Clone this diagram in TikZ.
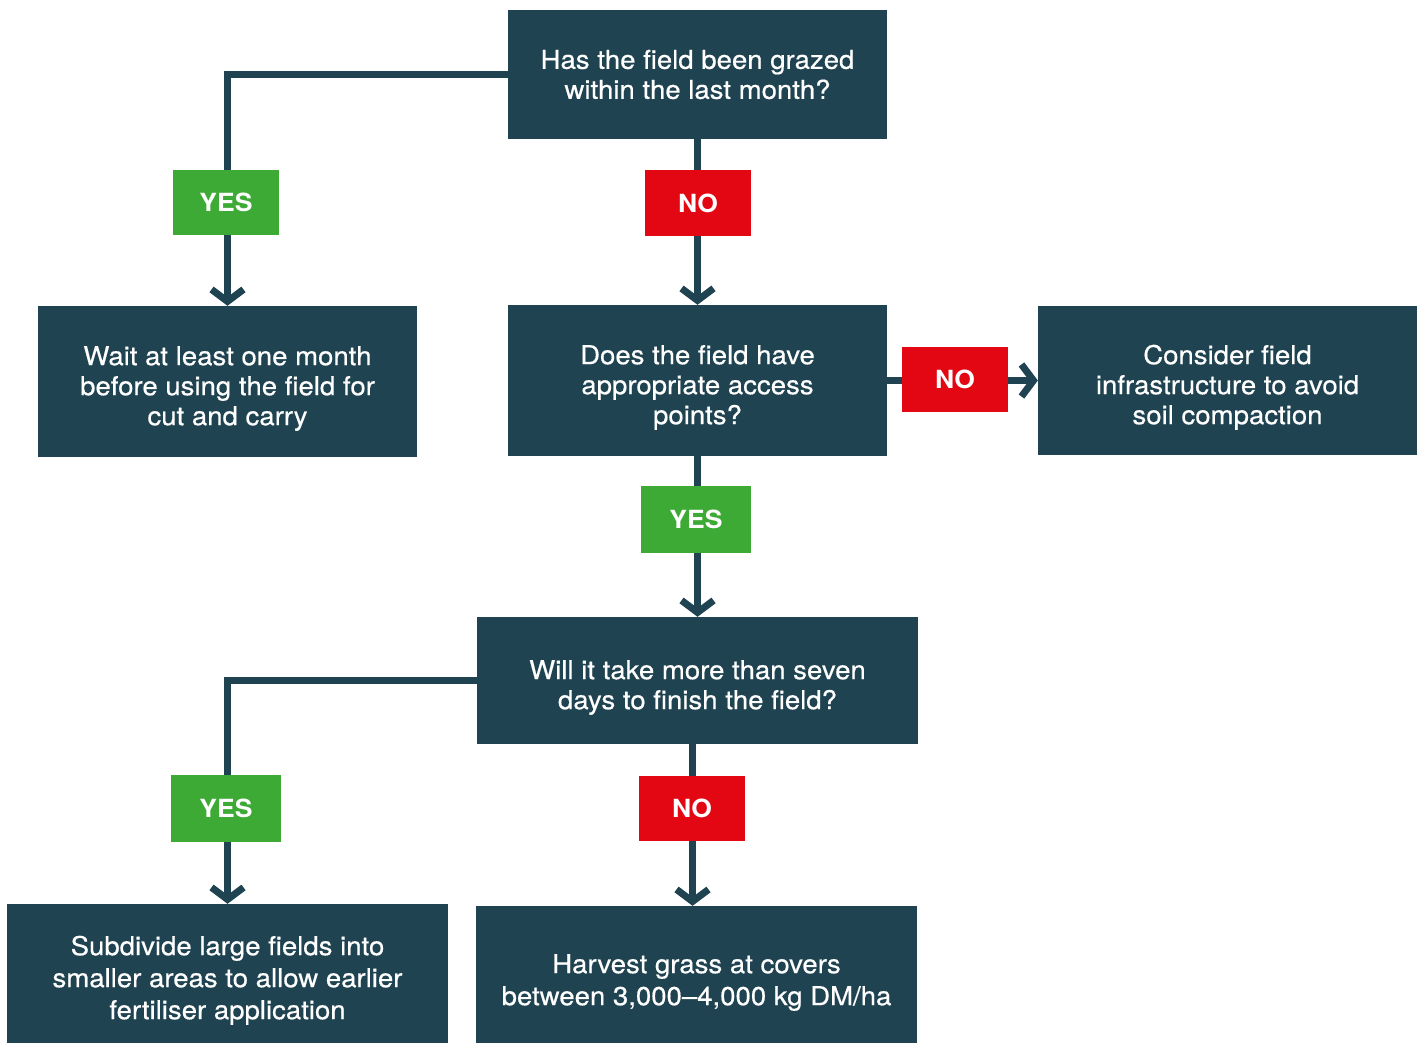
\documentclass[tikz,border=0pt]{standalone}
\usepackage{fontspec}
\setmainfont{TeX Gyre Heros}[FakeStretch=1.06, UprightFeatures={FakeBold=0.5}]
\usepackage{tikz}
\usetikzlibrary{positioning, calc, arrows.meta}
\definecolor{boxteal}{HTML}{1F4350}
\definecolor{yesgreen}{HTML}{3DAA35}
\definecolor{nored}{HTML}{E30613}
% tall invisible strut that pushes the text block down
\newcommand{\dropstrut}[1]{\rule{0pt}{#1}}

\begin{document}
\begin{tikzpicture}[x=1pt, y=-1pt,
    box/.style = {fill=boxteal, text=white, align=center, inner sep=0pt,
        font=\fontsize{26}{30}\selectfont},
    yeslabel/.style = {fill=yesgreen, text=white, minimum width=106pt, minimum height=65pt,
        inner sep=0pt, font=\fontsize{25}{30}\selectfont\bfseries},
    nolabel/.style = {yeslabel, fill=nored},
    link/.style = {draw=boxteal, line width=7pt, -{Straight Barb[length=12pt, width=32pt, line width=7pt]}}]
    \useasboundingbox (0,0) rectangle (1423,1043);
    % boxes
    \node[box, minimum width=379pt, minimum height=129pt] (grazed) at (697.5,74.5)
        {Has the field been grazed\\within the last month?};
    \node[box, minimum width=379pt, minimum height=151pt] (wait) at (227.5,381.5)
        {\dropstrut{33pt}Wait at least one month\\before using the field for\\cut and carry};
    \node[box, minimum width=379pt, minimum height=151pt] (access) at (697.5,380.5)
        {\dropstrut{33pt}Does the field have\\appropriate access\\points?};
    \node[box, minimum width=379pt, minimum height=149pt] (infra) at (1227.5,380.5)
        {\dropstrut{33pt}Consider field\\infrastructure to avoid\\soil compaction};
    \node[box, minimum width=441pt, minimum height=127pt] (seven) at (697.5,680.5)
        {\dropstrut{33pt}Will it take more than seven\\days to finish the field?};
    \node[box, minimum width=441pt, minimum height=139pt,
        font=\fontsize{26}{32}\selectfont] (divide) at (227.5,973.5)
        {\dropstrut{33pt}Subdivide large fields into\\smaller areas to allow earlier\\fertiliser application};
    \node[box, minimum width=441pt, minimum height=137pt,
        font=\fontsize{26}{32}\selectfont] (harvest) at (696.5,974.5)
        {\dropstrut{35pt}Harvest grass at covers\\between 3,000--4,000 kg DM/ha};

    % connectors
    \draw[link] (grazed.west) -| (wait.north);
    \draw[link] (grazed.south) -- (access.north);
    \draw[link] (access.east) -- (infra.west);
    \draw[link] (access.south) -- (seven.north);
    \draw[link] (seven.west) -| (divide.north);
    \draw[link] ($(seven.south)+(-5,0)$) -- ($(harvest.north)+(-4,0)$);

    % answers
    \node[yeslabel] (yesgrazed) at (226,202.5) {YES};
    \node[nolabel] (nograzed) at (698,203) {NO};
    \node[nolabel] (noaccess) at (955,379.5) {NO};
    \node[yeslabel, minimum width=110pt, minimum height=67pt] (yesaccess) at (696,519.5) {YES};
    \node[yeslabel, minimum width=110pt, minimum height=67pt] (yesseven) at (226,808.5) {YES};
    \node[nolabel] (noseven) at (692,808.5) {NO};
\end{tikzpicture}
\end{document}
